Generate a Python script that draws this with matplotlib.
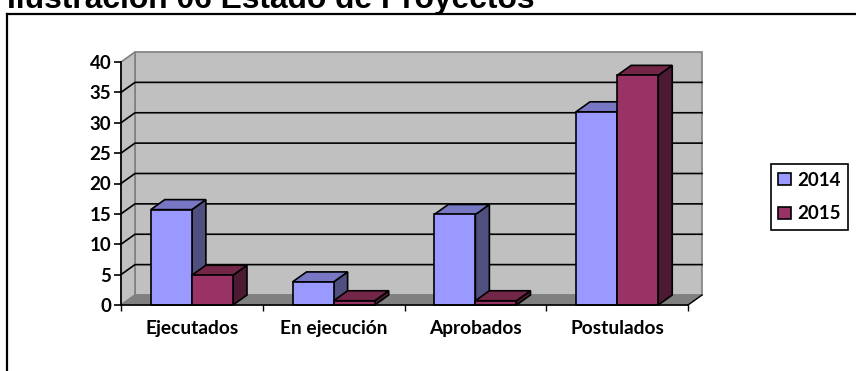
import matplotlib
matplotlib.use("Agg")
import matplotlib.pyplot as plt
from matplotlib.lines import Line2D
from matplotlib.patches import Polygon

# ── DATA ──────────────────────────────────────────────
CATEGORIES = ["Ejecutados", "En ejecución", "Aprobados", "Postulados"]
VALS_2014 = [15.7, 3.8, 14.9, 31.8]
VALS_2015 = [4.9, 0.7, 0.7, 37.8]
YTICKS = [0, 5, 10, 15, 20, 25, 30, 35, 40]
TITLE = "Ilustración 06 Estado de Proyectos"

# ── STYLE ─────────────────────────────────────────────
W, H = 856, 371
SERIES = [
    ("2014", VALS_2014, "#9999FF", "#7777C4", "#4F4F80"),
    ("2015", VALS_2015, "#993366", "#732648", "#4D1A33"),
]
BAR_W = 0.29
DX = 14 / 141.75   # depth offset in category units
DY = 10 / 6.075    # depth offset in value units
WALL = "#C0C0C0"
EDGE = "#808080"
FONT = "Lato"

plt.rcParams["font.family"] = [FONT, "DejaVu Sans"]
plt.rcParams["font.weight"] = "bold"
fig = plt.figure(figsize=(W / 100, H / 100), dpi=100)
ax = fig.add_axes([121 / W, 1 - 305 / H, 567 / W, 243 / H])
ax.set_xlim(0, 4)
ax.set_ylim(0, 40)
ax.patch.set_visible(False)

# outer frame, only top and left fall inside the crop
fig.add_artist(Line2D([7 / W, 7 / W], [0, 1 - 14 / H], color="black", lw=1.6))
fig.add_artist(Line2D([7 / W, 1], [1 - 14 / H, 1 - 14 / H], color="black", lw=1.6))
fig.text(7 / W, 1 - 8 / H, TITLE, family="Liberation Sans", weight="bold",
         fontsize=22.9, va="baseline", ha="left")


def poly(pts, fc, ec="black", lw=1.2, z=1):
    ax.add_patch(Polygon(pts, closed=True, facecolor=fc, edgecolor=ec,
                         linewidth=lw, zorder=z, clip_on=False))


# walls and floor
poly([(DX, DY), (4 + DX, DY), (4 + DX, 40 + DY), (DX, 40 + DY)], WALL, EDGE, 1.2, 1)
poly([(0, 0), (DX, DY), (DX, 40 + DY), (0, 40)], WALL, EDGE, 1.2, 1)
poly([(0, 0), (4, 0), (4 + DX, DY), (DX, DY)], EDGE, EDGE, 0.8, 1.5)
ax.plot([4, 4 + DX], [0, DY], color="black", lw=1, zorder=1.6, clip_on=False)

# gridlines run across the back wall and down the side wall
for y in YTICKS[1:-1]:
    ax.plot([0, DX, 4 + DX], [y, y + DY, y + DY], color="black", lw=1.2,
            zorder=2, clip_on=False)

# bars
z = 3
for i in range(len(CATEGORIES)):
    for j, (label, vals, front, top, side) in enumerate(SERIES):
        x0 = i + 0.5 - BAR_W + j * BAR_W
        x1 = x0 + BAR_W
        v = vals[i]
        poly([(x1, 0), (x1 + DX, DY), (x1 + DX, v + DY), (x1, v)], side, z=z)
        poly([(x0, v), (x1, v), (x1 + DX, v + DY), (x0 + DX, v + DY)], top, z=z)
        ax.bar(x0, v, width=BAR_W, align="edge", color=front, edgecolor="black",
               linewidth=1.2, zorder=z + 0.5, clip_on=False,
               label=label if i == 0 else None)
        z += 1

# axes
for s in ("top", "right"):
    ax.spines[s].set_visible(False)
for s in ("left", "bottom"):
    ax.spines[s].set_linewidth(1.2)
    ax.spines[s].set_zorder(40)
ax.set_yticks(YTICKS)
ax.set_xticks(range(5))
ax.set_xticklabels([])
ax.set_xticks([i + 0.5 for i in range(4)], minor=True)
ax.set_xticklabels(CATEGORIES, minor=True, fontsize=13.8, weight="bold")
ax.tick_params(axis="x", which="major", length=4, width=1, direction="out")
ax.tick_params(axis="x", which="minor", length=0, pad=11)
ax.tick_params(axis="y", length=5, width=1.2, pad=2, labelsize=13.5)

# legend
leg = ax.legend(loc="center", bbox_to_anchor=(809.5 / W, 1 - 197 / H),
                bbox_transform=fig.transFigure, frameon=True, fancybox=False,
                edgecolor="black", framealpha=1,
                prop={"family": FONT, "weight": "bold", "size": 13.5},
                handlelength=0.65, handleheight=0.65, handletextpad=0.35,
                labelspacing=0.9, borderpad=0.38, borderaxespad=0)
leg.get_frame().set_linewidth(1.2)
leg.set_zorder(50)

fig.savefig("out.png", dpi=100)
